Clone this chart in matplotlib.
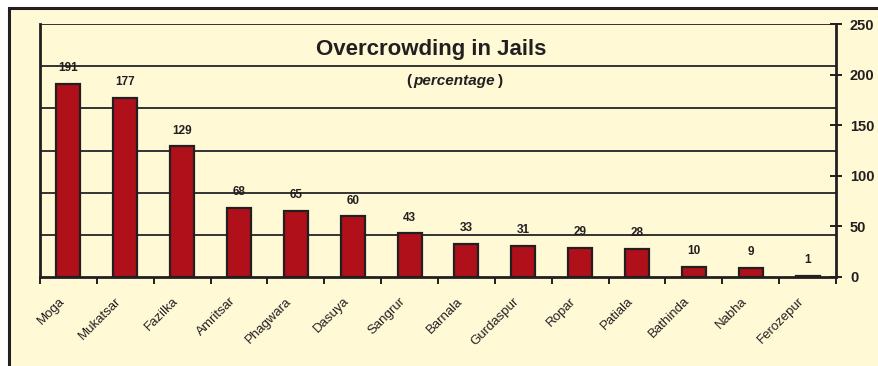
import numpy as np
import matplotlib
matplotlib.use('Agg')
from matplotlib import pyplot as plt
from matplotlib.patches import Rectangle
from matplotlib.transforms import ScaledTranslation

# data
jails = ['Moga', 'Mukatsar', 'Fazilka', 'Amritsar', 'Phagwara', 'Dasuya', 'Sangrur',
         'Barnala', 'Gurdaspur', 'Ropar', 'Patiala', 'Bathinda', 'Nabha', 'Ferozepur']
overcrowding = [191, 177, 129, 68, 65, 60, 43, 33, 31, 29, 28, 10, 9, 1]
y_ticks = [0, 50, 100, 150, 200, 250]

cream = '#FFF9D6'
bar_red = '#B0101A'
dark = '#231F20'

plt.rcParams['font.family'] = ['Liberation Sans', 'DejaVu Sans']

fig = plt.figure(figsize=(8.79, 3.66), dpi=100, facecolor='white')

# cream frame, cut at right and bottom edges
bg = fig.add_axes([0, 0, 1, 1], zorder=-5)
bg.set_axis_off()
bg.set_xlim(0, 879)
bg.set_ylim(366, 0)
bg.add_patch(Rectangle((9, 8), 900, 400, facecolor=cream, edgecolor=dark, linewidth=2.2))

ax = fig.add_axes([40 / 879, 89 / 366, 796 / 879, 253 / 366], zorder=1)
ax.set_facecolor(cream)

n = len(jails)
x = np.arange(n)
ax.bar(x, overcrowding, width=0.42, color=bar_red, edgecolor=dark, linewidth=1.6, zorder=3)
for xi, v in zip(x, overcrowding):
	ax.annotate(str(v), (xi, v), xytext=(0, 7), textcoords='offset points', ha='center',
	            va='bottom', fontsize=8.5, fontweight='bold', color=dark, zorder=4)

ax.set_xlim(-0.5, n - 0.5)
ax.set_ylim(0, 250)

# gridlines split the axis in six parts, while the ticks go by 50
for g in np.linspace(0, 250, 7)[1:]:
	ax.axhline(g, color='#333333', linewidth=1.4, zorder=1)

ax.yaxis.tick_right()
ax.set_yticks(y_ticks)
ax.set_yticklabels([str(t) for t in y_ticks], fontsize=10.5, fontweight='bold', color=dark)
ax.tick_params(axis='y', direction='inout', length=8, width=1.4, pad=6, color=dark)

ax.set_xticks(np.arange(n + 1) - 0.5, minor=True)
ax.set_xticks(x)
ax.set_xticklabels(jails, rotation=45, ha='right', rotation_mode='anchor', fontsize=9.5, color=dark)
ax.tick_params(axis='x', which='major', length=0, pad=13)
ax.tick_params(axis='x', which='minor', direction='out', length=5, width=1.4, color=dark)
for lbl in ax.get_xticklabels():
	lbl.set_transform(lbl.get_transform() + ScaledTranslation(-10 / 100, 0, fig.dpi_scale_trans))

for side in ['left', 'right', 'bottom']:
	ax.spines[side].set_linewidth(2)
	ax.spines[side].set_color(dark)
ax.spines['top'].set_visible(False)

fig.text(431 / 879, 1 - 50 / 366, 'Overcrowding in Jails', ha='center', va='center',
         fontsize=16, fontweight='bold', color=dark)
sub = fig.text(454 / 879, 1 - 81 / 366, 'percentage', ha='center', va='center',
               fontsize=11, fontweight='bold', style='italic', color=dark)
fig.canvas.draw()
bb = sub.get_window_extent()
fig.text(bb.x0 - 2, bb.y0 + bb.height / 2, '(', transform=None, ha='right', va='center',
         fontsize=11, fontweight='bold', color=dark)
fig.text(bb.x1 + 3, bb.y0 + bb.height / 2, ')', transform=None, ha='left', va='center',
         fontsize=11, fontweight='bold', color=dark)

fig.savefig('out.png', dpi=100, facecolor='white')
